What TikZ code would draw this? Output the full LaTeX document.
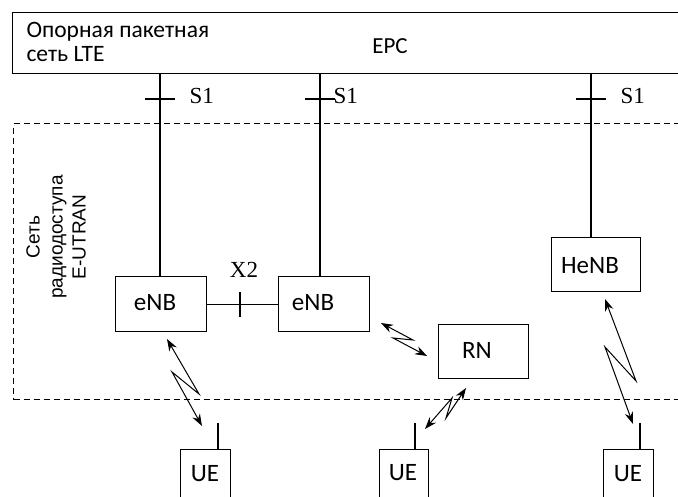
\documentclass[tikz,border=0pt]{standalone}
\usepackage{fontspec}
\setmainfont{Carlito}
\newfontfamily\timesf{Liberation Serif}
\newfontfamily\arialf{Liberation Sans}
\usetikzlibrary{arrows.meta}

\begin{document}
\begin{tikzpicture}[x=1pt,y=-1pt,
  line width=1.1pt,
  box/.style={draw, line width=1.3pt, inner sep=0pt, anchor=north west},
  lbl/.style={font=\fontsize{25}{28}\selectfont, inner sep=0pt},
  iface/.style={font=\timesf\fontsize{23}{25}\selectfont, inner sep=0pt},
  radio/.style={line width=1pt, line join=miter,
    {Stealth[length=12pt,width=8.5pt]}-{Stealth[length=12pt,width=8.5pt]}},
  ]
\useasboundingbox (0,0) rectangle (678,497);
\clip (0,0) rectangle (678,497);

% core network strip
\node[box, minimum width=700pt, minimum height=61pt] (epc) at (12,12) {};
\node[inner sep=0pt, anchor=north west, align=left,
      font=\fontsize{23.5}{24}\selectfont] (epctitle) at (26,22)
      {Опорная пакетная\\сеть LTE};
\node[inner sep=0pt, font=\fontsize{23}{24}\selectfont] (epclbl) at (390,46) {EPC};

% radio access area
\node[box, dashed, dash pattern=on 6pt off 4pt, line width=1.1pt,
      minimum width=700pt, minimum height=276pt] (ran) at (13,123) {};
\node[inner sep=0pt, rotate=90, align=center,
      font=\arialf\fontsize{19}{23}\selectfont] (ranlbl) at (56,237)
      {Сеть\\радиодоступа\\E-UTRAN};

% base stations and terminals
\node[box, minimum width=91pt, minimum height=55pt] (enb1) at (115,276) {};
\node[box, minimum width=91pt, minimum height=55pt] (enb2) at (278,276) {};
\node[box, minimum width=89pt, minimum height=54pt] (henb) at (551,237) {};
\node[box, minimum width=90pt, minimum height=54pt] (rn) at (438,324) {};
\node[box, minimum width=50pt, minimum height=80pt] (ue1) at (180,449) {};
\node[box, minimum width=49pt, minimum height=80pt] (ue2) at (379,449) {};
\node[box, minimum width=50pt, minimum height=80pt] (ue3) at (603,449) {};

\node[lbl] (enb1t) at (155,303) {eNB};
\node[lbl] (enb2t) at (313,303) {eNB};
\node[lbl] (henbt) at (590,266) {HeNB};
\node[lbl] (rnt) at (477,350) {RN};
\node[lbl] (ue1t) at (205,474) {UE};
\node[lbl] (ue2t) at (403,473) {UE};
\node[lbl] (ue3t) at (628,474) {UE};

% S1 interfaces
\coordinate (s1a) at (160,73);
\coordinate (s1b) at (320,73);
\coordinate (s1c) at (591,73);
\draw (s1a) -- (s1a |- enb1.north);
\draw (s1b) -- (s1b |- enb2.north);
\draw (s1c) -- (s1c |- henb.north);
\draw (145,99) -- (175,99);
\draw (305,99) -- (335,99);
\draw (576,99) -- (606,99);
\node[iface, anchor=west] (s1at) at (189,96) {S1};
\node[iface, anchor=west] (s1bt) at (333,96) {S1};
\node[iface, anchor=west] (s1ct) at (620,96) {S1};

% X2 interface
\draw (enb1) -- (enb2);
\draw (240,292) -- (240,317);
\node[iface] (x2t) at (244,270) {X2};

% antenna stubs on the terminals
\coordinate (a1) at (218,423);
\coordinate (a2) at (415,423);
\coordinate (a3) at (640,423);
\draw (a1) -- (a1 |- ue1.north);
\draw (a2) -- (a2 |- ue2.north);
\draw (a3) -- (a3 |- ue3.north);

% radio links
\coordinate (l1a) at (167,339); \coordinate (l1p) at (199,394);
\coordinate (l1q) at (172,372); \coordinate (l1b) at (202,426);
\draw[radio] (l1a) -- (l1p) -- (l1q) -- (l1b);

\coordinate (l2a) at (381,323); \coordinate (l2p) at (413,340);
\coordinate (l2q) at (393,338); \coordinate (l2b) at (427,356);
\draw[radio] (l2a) -- (l2p) -- (l2q) -- (l2b);

\coordinate (l3a) at (466,388); \coordinate (l3p) at (446,418);
\coordinate (l3q) at (452,398); \coordinate (l3b) at (425,429);
\draw[radio] (l3a) -- (l3p) -- (l3q) -- (l3b);

\coordinate (l4a) at (605,299); \coordinate (l4p) at (636,381);
\coordinate (l4q) at (605,347); \coordinate (l4b) at (633,424);
\draw[radio] (l4a) -- (l4p) -- (l4q) -- (l4b);
\end{tikzpicture}
\end{document}
